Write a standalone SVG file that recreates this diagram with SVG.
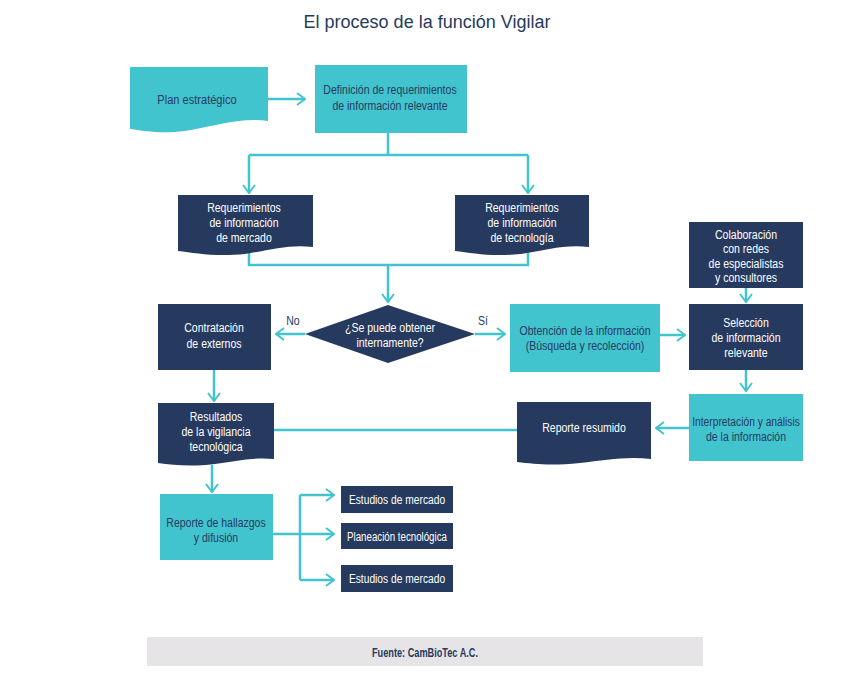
<svg xmlns="http://www.w3.org/2000/svg" width="856" height="675" viewBox="0 0 856 675">
<defs>
<marker id="ah" viewBox="0 0 10 14" refX="9" refY="7" markerWidth="10" markerHeight="14" markerUnits="userSpaceOnUse" orient="auto">
<path d="M1,1 L9,7 L1,13" fill="none" stroke="#42c4cf" stroke-width="2"/>
</marker>
</defs>
<style>
.teal{fill:#42c4cf}
.navy{fill:#263a5f}
.t{font-family:"Liberation Sans",Arial,sans-serif;font-size:13.5px;text-anchor:middle}
.d{fill:#263a5f}
.w{fill:#ffffff}
.c{fill:none;stroke:#42c4cf;stroke-width:2.5}
.ca{fill:none;stroke:#42c4cf;stroke-width:2.5;marker-end:url(#ah)}
</style>
<rect width="856" height="675" fill="#ffffff"/>
<text x="427" y="28" font-family="Liberation Sans, Arial, sans-serif" font-size="18" fill="#263a5f" text-anchor="middle">El proceso de la función Vigilar</text>

<g id="connectors">
<path class="ca" d="M268,99 H305"/>
<path class="c" d="M388,133 V155 M249,155 H528"/>
<path class="ca" d="M249,155 V193"/>
<path class="ca" d="M528,155 V193"/>
<path class="c" d="M249,250 V265 H528 V250"/>
<path class="ca" d="M388,265 V302"/>
<path class="ca" d="M305,334 H276"/>
<path class="ca" d="M475,334 H505"/>
<path class="ca" d="M660,335 H685"/>
<path class="ca" d="M746,288 V302"/>
<path class="ca" d="M746,370 V391"/>
<path class="ca" d="M689,428 H656"/>
<path class="c" d="M517,430 H274"/>
<path class="ca" d="M214,370 V401"/>
<path class="ca" d="M212,465 V492"/>
<path class="c" d="M273,534 H300 M300,495 V580"/>
<path class="ca" d="M300,495 H334"/>
<path class="ca" d="M300,534 H334"/>
<path class="ca" d="M300,580 H334"/>
</g>

<g id="plan">
<path class="teal" d="M130,67 H268 V121 C240,117 212,127 185,131 C160,134 145,131 130,129 Z"/>
<text class="t d" x="0" y="104" font-size="15.5" transform="translate(197,0) scale(0.82,1)">Plan estratégico</text>
</g>
<g id="definicion">
<rect class="teal" x="315" y="65" width="152" height="68"/>
<text class="t d" x="0" y="94" transform="translate(390,0) scale(0.78,1)">Definición de requerimientos</text>
<text class="t d" x="0" y="110" transform="translate(390,0) scale(0.78,1)">de información relevante</text>
</g>
<g id="req-mercado">
<path class="navy" d="M178,195 H313 V247 C290,244 270,250 245,254 C215,257 195,253 178,251 Z"/>
<text class="t w" x="0" y="212" transform="translate(244,0) scale(0.78,1)">Requerimientos</text>
<text class="t w" x="0" y="227" transform="translate(244,0) scale(0.78,1)">de información</text>
<text class="t w" x="0" y="242" transform="translate(244,0) scale(0.78,1)">de mercado</text>
</g>
<g id="req-tecnologia">
<path class="navy" d="M455,195 H589 V247 C566,244 546,250 521,254 C491,257 472,253 455,251 Z"/>
<text class="t w" x="0" y="212" transform="translate(522,0) scale(0.78,1)">Requerimientos</text>
<text class="t w" x="0" y="227" transform="translate(522,0) scale(0.78,1)">de información</text>
<text class="t w" x="0" y="242" transform="translate(522,0) scale(0.78,1)">de tecnología</text>
</g>
<g id="decision">
<path class="navy" d="M388,305 L475,334 L388,363 L305,334 Z"/>
<text class="t w" x="0" y="332" transform="translate(390,0) scale(0.78,1)">¿Se puede obtener</text>
<text class="t w" x="0" y="347" transform="translate(390,0) scale(0.78,1)">internamente?</text>
<text class="t d" x="0" y="325" transform="translate(293,0) scale(0.78,1)">No</text>
<text class="t d" x="0" y="325" transform="translate(483,0) scale(0.78,1)">Sí</text>
</g>
<g id="contratacion">
<rect class="navy" x="158" y="304" width="113" height="66"/>
<text class="t w" x="0" y="332" transform="translate(214,0) scale(0.78,1)">Contratación</text>
<text class="t w" x="0" y="348" transform="translate(214,0) scale(0.78,1)">de externos</text>
</g>
<g id="obtencion">
<rect class="teal" x="510" y="304" width="150" height="68"/>
<text class="t d" x="0" y="335" transform="translate(585,0) scale(0.78,1)">Obtención de la información</text>
<text class="t d" x="0" y="350" transform="translate(585,0) scale(0.78,1)">(Búsqueda y recolección)</text>
</g>
<g id="colaboracion">
<rect class="navy" x="689" y="222" width="114" height="66"/>
<text class="t w" x="0" y="239" transform="translate(746,0) scale(0.78,1)">Colaboración</text>
<text class="t w" x="0" y="253" transform="translate(746,0) scale(0.78,1)">con redes</text>
<text class="t w" x="0" y="268" transform="translate(746,0) scale(0.78,1)">de especialistas</text>
<text class="t w" x="0" y="282" transform="translate(746,0) scale(0.78,1)">y consultores</text>
</g>
<g id="seleccion">
<rect class="navy" x="689" y="304" width="114" height="66"/>
<text class="t w" x="0" y="327" transform="translate(746,0) scale(0.78,1)">Selección</text>
<text class="t w" x="0" y="342" transform="translate(746,0) scale(0.78,1)">de información</text>
<text class="t w" x="0" y="357" transform="translate(746,0) scale(0.78,1)">relevante</text>
</g>
<g id="interpretacion">
<rect class="teal" x="689" y="394" width="114" height="67"/>
<text class="t d" x="0" y="426" transform="translate(746,0) scale(0.76,1)">Interpretación y análisis</text>
<text class="t d" x="0" y="441" transform="translate(746,0) scale(0.78,1)">de la información</text>
</g>
<g id="reporte-resumido">
<path class="navy" d="M517,402 H651 V459 C628,456 605,460 580,463 C550,466 535,464 517,462 Z"/>
<text class="t w" x="0" y="432" transform="translate(584,0) scale(0.78,1)">Reporte resumido</text>
</g>
<g id="resultados">
<path class="navy" d="M158,403 H274 V459 C254,457 236,461 215,464 C190,467 174,465 158,463 Z"/>
<text class="t w" x="0" y="421" transform="translate(216,0) scale(0.78,1)">Resultados</text>
<text class="t w" x="0" y="436" transform="translate(216,0) scale(0.78,1)">de la vigilancia</text>
<text class="t w" x="0" y="451" transform="translate(216,0) scale(0.78,1)">tecnológica</text>
</g>
<g id="reporte-hallazgos">
<rect class="teal" x="160" y="494" width="113" height="66"/>
<text class="t d" x="0" y="527" transform="translate(216,0) scale(0.78,1)">Reporte de hallazgos</text>
<text class="t d" x="0" y="542" transform="translate(216,0) scale(0.78,1)">y difusión</text>
</g>
<g id="estudios-1">
<rect class="navy" x="341" y="486" width="112" height="27"/>
<text class="t w" x="0" y="504" transform="translate(397,0) scale(0.76,1)">Estudios de mercado</text>
</g>
<g id="planeacion">
<rect class="navy" x="341" y="523" width="112" height="26"/>
<text class="t w" x="0" y="541" transform="translate(397,0) scale(0.72,1)">Planeación tecnológica</text>
</g>
<g id="estudios-2">
<rect class="navy" x="341" y="565" width="112" height="27"/>
<text class="t w" x="0" y="583" transform="translate(397,0) scale(0.76,1)">Estudios de mercado</text>
</g>
<g id="fuente">
<rect x="147" y="637" width="556" height="29" fill="#e6e4e6"/>
<text class="t d" x="0" y="657" font-weight="bold" transform="translate(425,0) scale(0.68,1)">Fuente: CamBioTec A.C.</text>
</g>
</svg>
